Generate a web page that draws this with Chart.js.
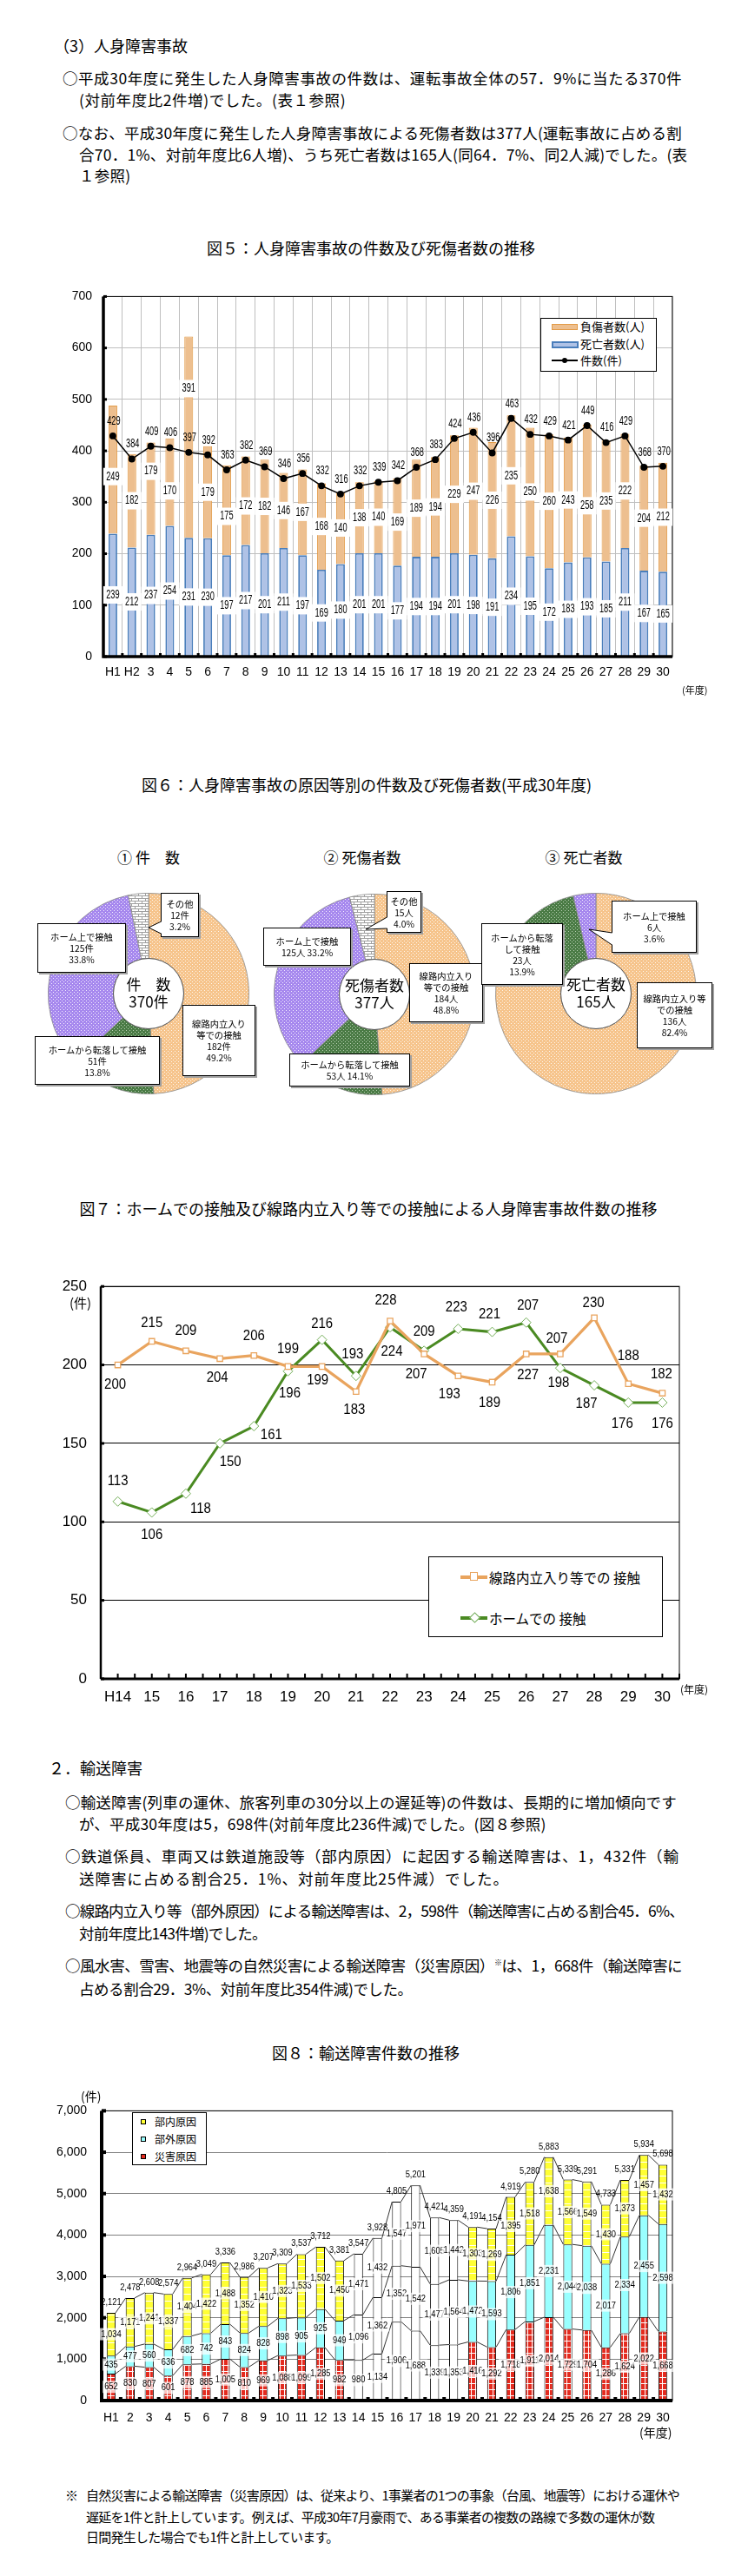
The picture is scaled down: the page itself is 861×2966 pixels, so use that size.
<!DOCTYPE html>
<html lang="ja"><head><meta charset="utf-8">
<script src="https://cdn.jsdelivr.net/npm/chart.js@4.4.1/dist/chart.umd.min.js"></script>
<style>
html,body{margin:0;padding:0;background:#fff;}
body{width:861px;height:2966px;position:relative;font-family:'Noto Sans CJK JP','Noto Sans',sans-serif;color:#000;overflow:hidden;}
.a{position:absolute;}
.t{position:absolute;white-space:nowrap;line-height:20px;font-size:17.5px;}
.ttl{position:absolute;white-space:nowrap;line-height:22px;font-size:18px;text-align:center;width:800px;}
.box{position:absolute;background:#fff;border:1px solid #000;box-shadow:2px 2px 0 #a0a0a0;font-size:10.3px;line-height:13px;text-align:center;display:flex;flex-direction:column;justify-content:center;white-space:nowrap;z-index:5;}
.ctr{position:absolute;text-align:center;font-size:17px;line-height:20px;z-index:4;}
.lg{position:absolute;background:#fff;border:1px solid #000;z-index:5;}
</style></head><body>

<div class="t" style="left:62px;top:42px;font-size:18px">（3）人身障害事故</div>
<div class="t" style="left:72px;top:80px" data-g="p1" data-w="713">○平成30年度に発生した人身障害事故の件数は、運転事故全体の57．9%に当たる370件</div>
<div class="t" style="left:91px;top:105px" data-g="p1">(対前年度比2件増)でした。(表１参照)</div>
<div class="t" style="left:72px;top:143px" data-g="p2" data-w="713">○なお、平成30年度に発生した人身障害事故による死傷者数は377人(運転事故に占める割</div>
<div class="t" style="left:91px;top:168px" data-g="p2">合70．1%、対前年度比6人増)、うち死亡者数は165人(同64．7%、同2人減)でした。(表</div>
<div class="t" style="left:91px;top:192px" data-g="p2">１参照)</div>

<div class="ttl" style="left:27px;top:274px">図５：人身障害事故の件数及び死傷者数の推移</div>
<div class="a" id="c5" style="left:60px;top:320px;width:740px;height:480px"><canvas></canvas></div>
<div class="a" style="left:785px;top:786px;font-size:11px">(年度)</div>
<div class="lg" style="left:622px;top:366px;width:132px;height:60px">
  <div class="a" style="left:12px;top:6px;width:28px;height:5px;background:#EDBF8F;border:1px solid #E39B48"></div>
  <div class="a" style="left:45px;top:0px;font-size:13px;line-height:18px">負傷者数(人)</div>
  <div class="a" style="left:12px;top:26px;width:27px;height:4px;background:#AFC2E6;border:2px solid #4A7EBB"></div>
  <div class="a" style="left:45px;top:20px;font-size:13px;line-height:18px">死亡者数(人)</div>
  <div class="a" style="left:12px;top:47px;width:30px;height:2px;background:#000"></div>
  <div class="a" style="left:24px;top:45px;width:6px;height:6px;border-radius:3px;background:#000"></div>
  <div class="a" style="left:45px;top:39px;font-size:13px;line-height:18px">件数(件)</div>
</div>

<div class="ttl" style="left:22px;top:892px">図６：人身障害事故の原因等別の件数及び死傷者数(平成30年度)</div>
<div class="a" style="left:121px;top:977px;width:100px;text-align:center;font-size:17px;line-height:20px">①&nbsp;件　数</div>
<div class="a" style="left:362px;top:977px;width:110px;text-align:center;font-size:17px;line-height:20px">②&nbsp;死傷者数</div>
<div class="a" style="left:617px;top:977px;width:110px;text-align:center;font-size:17px;line-height:20px">③&nbsp;死亡者数</div>
<div class="a" id="p0" style="left:55px;top:1028px;width:232px;height:232px"><canvas></canvas></div>
<div class="a" id="p1" style="left:315px;top:1029px;width:232px;height:232px"><canvas></canvas></div>
<div class="a" id="p2" style="left:570px;top:1028px;width:232px;height:232px"><canvas></canvas></div>
<div id="pieLabels"></div>
<svg class="a" style="left:0;top:0;z-index:6" width="861" height="1300" viewBox="0 0 861 1300">
  <polygon points="186,1061 171,1068 186,1075" fill="#fff"/>
  <polyline points="185.5,1061 171,1068 185.5,1075" fill="none" stroke="#000" stroke-width="1"/>
  <polygon points="446,1056 421,1070 446,1069" fill="#fff"/>
  <polyline points="445.5,1056 421,1070 445.5,1069" fill="none" stroke="#000" stroke-width="1"/>
  <polygon points="705,1074 678,1070 705,1088" fill="#fff"/>
  <polyline points="704.5,1074 678,1070 704.5,1088" fill="none" stroke="#000" stroke-width="1"/>
</svg>

<div class="ttl" style="left:24px;top:1380px">図７：ホームでの接触及び線路内立入り等での接触による人身障害事故件数の推移</div>
<div class="a" id="c7" style="left:60px;top:1455px;width:750px;height:520px"><canvas></canvas></div>
<div class="a" style="left:80px;top:1490px;font-size:15px;line-height:20px">(件)</div>
<div class="a" style="left:783px;top:1936px;font-size:12px">(年度)</div>
<div class="lg" style="left:493px;top:1792px;width:268px;height:91px">
  <div class="a" style="left:36px;top:21px;width:31px;height:4px;background:#E9A45E"></div>
  <div class="a" style="left:47px;top:17px;width:7px;height:8px;border:1.5px solid #E9A45E;background:#fff"></div>
  <div class="a" style="left:69px;top:12px;font-size:15.5px;line-height:22px">線路内立入り等での 接触</div>
  <div class="a" style="left:36px;top:68px;width:31px;height:4px;background:#4A8A22"></div>
  <div class="a" style="left:48px;top:65px;width:7px;height:7px;border:1px solid #6AA84F;background:#fff;transform:rotate(45deg)"></div>
  <div class="a" style="left:69px;top:59px;font-size:15.5px;line-height:22px">ホームでの 接触</div>
</div>

<div class="t" style="left:56px;top:2025px;font-size:18px">２．輸送障害</div>
<div class="t" style="left:75px;top:2065px" data-g="q1" data-w="704">○輸送障害(列車の運休、旅客列車の30分以上の遅延等)の件数は、長期的に増加傾向です</div>
<div class="t" style="left:91px;top:2090px" data-g="q1">が、平成30年度は5，698件(対前年度比236件減)でした。(図８参照)</div>
<div class="t" style="left:75px;top:2127px" data-g="q2" data-w="707">○鉄道係員、車両又は鉄道施設等（部内原因）に起因する輸送障害は、1，432件（輸</div>
<div class="t" style="left:91px;top:2153px" data-g="q2">送障害に占める割合25．1%、対前年度比25件減）でした。</div>
<div class="t" style="left:75px;top:2190px" data-g="q3" data-w="712">○線路内立入り等（部外原因）による輸送障害は、2，598件（輸送障害に占める割合45．6%、</div>
<div class="t" style="left:91px;top:2216px" data-g="q3">対前年度比143件増)でした。</div>
<div class="t" style="left:75px;top:2253px" data-g="q4" data-w="710">○風水害、雪害、地震等の自然災害による輸送障害（災害原因）<sup style="font-size:9px;line-height:0">※</sup>は、1，668件（輸送障害に</div>
<div class="t" style="left:91px;top:2280px" data-g="q4">占める割合29．3%、対前年度比354件減)でした。</div>

<div class="ttl" style="left:21px;top:2352px">図８：輸送障害件数の推移</div>
<div class="a" id="c8" style="left:50px;top:2405px;width:750px;height:405px"><canvas></canvas></div>
<div class="a" style="left:93px;top:2404px;font-size:14px;line-height:18px">(件)</div>
<div class="a" style="left:736px;top:2791px;font-size:14px;line-height:18px">(年度)</div>
<div class="lg" style="left:152px;top:2432px;width:84px;height:59px">
  <div class="a" style="left:9px;top:7px;width:4px;height:4px;background:#FFFF33;border:1px solid #000"></div>
  <div class="a" style="left:25px;top:1px;font-size:12px;line-height:17px">部内原因</div>
  <div class="a" style="left:9px;top:27px;width:4px;height:4px;background:#99FFFF;border:1px solid #000"></div>
  <div class="a" style="left:25px;top:21px;font-size:12px;line-height:17px">部外原因</div>
  <div class="a" style="left:9px;top:47px;width:4px;height:4px;background:#E42A1E;border:1px solid #000"></div>
  <div class="a" style="left:25px;top:41px;font-size:12px;line-height:17px">災害原因</div>
</div>

<div class="t" style="left:75px;top:2863px;font-size:15px">※</div>
<div class="t" style="left:99px;top:2863px;font-size:15px" data-g="f1" data-w="683">自然災害による輸送障害（災害原因）は、従来より、1事業者の1つの事象（台風、地震等）における運休や</div>
<div class="t" style="left:99px;top:2888px;font-size:15px" data-g="f1">遅延を1件と計上しています。例えば、平成30年7月豪雨で、ある事業者の複数の路線で多数の運休が数</div>
<div class="t" style="left:99px;top:2911px;font-size:15px" data-g="f1">日間発生した場合でも1件と計上しています。</div>

<script>
// ---------- Figure 5 data ----------
const fig5Years=['H1','H2','3','4','5','6','7','8','9','10','11','12','13','14','15','16','17','18','19','20','21','22','23','24','25','26','27','28','29','30'];
const fig5Deaths=[239,212,237,254,231,230,197,217,201,211,197,169,180,201,201,177,194,194,201,198,191,234,195,172,183,193,185,211,167,165];
const fig5Injuries=[249,182,179,170,391,179,175,172,182,146,167,168,140,138,140,169,189,194,229,247,226,235,250,260,243,258,235,222,204,212];
const fig5Accidents=[429,384,409,406,397,392,363,382,369,346,356,332,316,332,339,342,368,383,424,436,396,463,432,429,421,449,416,429,368,370];
const fig5Ticks=[0,100,200,300,400,500,600,700];

// ---------- Figure 6 data ----------
const fig6Causes=['線路内立入り等での接触','ホームから転落して接触','ホーム上で接触','その他'];
const fig6Cases=[182,51,125,12];
const fig6CasesPct=[49.2,13.8,33.8,3.2];
const fig6Casualties=[184,53,125,15];
const fig6CasualtiesPct=[48.8,14.1,33.2,4.0];
const fig6Fatalities=[136,23,6];
const fig6FatalitiesPct=[82.4,13.9,3.6];
const fig6Totals=[370,377,165];

// ---------- Figure 7 data ----------
const fig7Years=['H14','15','16','17','18','19','20','21','22','23','24','25','26','27','28','29','30'];
const fig7Track=[200,215,209,204,206,199,199,183,228,207,193,189,207,207,230,188,182];
const fig7Platform=[113,106,118,150,161,196,216,193,224,209,223,221,227,198,187,176,176];
const fig7Ticks=[0,50,100,150,200,250];

// ---------- Figure 8 data ----------
const fig8Years=['H1','2','3','4','5','6','7','8','9','10','11','12','13','14','15','16','17','18','19','20','21','22','23','24','25','26','27','28','29','30'];
const fig8Internal=[1034,1171,1241,1337,1404,1422,1488,1352,1410,1323,1533,1502,1450,1471,1432,1547,1971,1605,1442,1303,1269,1395,1518,1638,1566,1549,1430,1373,1457,1432];
const fig8External=[435,477,560,636,682,742,843,824,828,898,905,925,949,1096,1362,1352,1542,1477,1564,1472,1593,1806,1851,2231,2044,2038,2017,2334,2455,2598];
const fig8Disaster=[652,830,807,601,878,885,1005,810,969,1088,1099,1285,982,980,1134,1906,1688,1339,1353,1416,1292,1718,1911,2014,1729,1704,1286,1624,2022,1668];
const fig8Total=[2121,2478,2608,2574,2964,3049,3336,2986,3207,3309,3537,3712,3381,3547,3928,4805,5201,4421,4359,4191,4154,4919,5280,5883,5339,5291,4733,5331,5934,5698];

// ---------- style-only arrays (label offsets, px) ----------
const fig5InjuryDy=[8,0,-20,10,-56,0,7,6,0,0,0,0,0,0,0,0,0,0,0,0,0,0,0,0,0,17,0,0,0,0];
const fig7TrackDy=[23,-21,-23,22,-22,-20,16,21,-24,23,21,24,-56,-18,-17,-32,-22];
const fig7TrackDx=[-3,0,0,-3,0,0,-5,-2,-5,-9,-10,-3,2,-4,-1,0,-1];
const fig7PlatformDy=[-23,26,18,21,10,26,-18,-25,28,-22,-25,-20,61,17,21,24,24];
const fig7PlatformDx=[0,0,17,12,20,2,0,-4,2,0,-2,-3,2,-2,-9,-7,0];

Chart.defaults.font.family="'Liberation Sans','Noto Sans CJK JP',sans-serif";
Chart.defaults.color='#000';

function cond(ctx,text,x,y,sx){ctx.save();ctx.translate(x,y);ctx.scale(sx,1);ctx.fillText(text,0,0);ctx.restore();}
function mkPattern(w,h,draw){const c=document.createElement('canvas');c.width=w;c.height=h;const x=c.getContext('2d');draw(x);return x.createPattern(c,'repeat');}
const fmt=v=>v.toLocaleString('en-US');

function build(){
// ===== Figure 5 =====
const fig5Plugin={id:'fig5p',afterDatasetsDraw(chart){
  const {ctx,chartArea:a}=chart;ctx.save();
  ctx.strokeStyle='#000';ctx.lineWidth=1;ctx.strokeRect(a.left,a.top,a.right-a.left,a.bottom-a.top);
  ctx.lineWidth=3.5;ctx.beginPath();ctx.moveTo(a.left,a.top);ctx.lineTo(a.left,a.bottom);ctx.lineTo(a.right,a.bottom);ctx.stroke();
  const n=chart.data.labels.length,cw=(a.right-a.left)/n;ctx.fillStyle='#000';
  for(let i=1;i<n;i++)ctx.fillRect(a.left+i*cw-1.5,a.bottom-4,3,4);
  const ys=chart.scales.y;fig5Ticks.forEach(v=>ctx.fillRect(a.left,ys.getPixelForValue(v)-1.5,4,3));
  ctx.font="14px 'Liberation Sans',sans-serif";ctx.textAlign='center';ctx.textBaseline='middle';
  [1,2].forEach(di=>{const m=chart.getDatasetMeta(di);const ds=chart.data.datasets[di];
    m.data.forEach((b,i)=>{const cy=(b.y+b.base)/2+(di===2?fig5InjuryDy[i]:0);ctx.fillStyle='#fff';ctx.fillRect(b.x-11,cy-10,22,20);ctx.fillStyle='#000';cond(ctx,String(ds.data[i]),b.x,cy,0.66);});});
  const lm=chart.getDatasetMeta(0);
  lm.data.forEach((p,i)=>{ctx.fillStyle='#000';cond(ctx,String(fig5Accidents[i]),p.x+1,p.y-17,0.66);});
  ctx.restore();}};
new Chart(document.querySelector('#c5 canvas'),{type:'bar',
 data:{labels:fig5Years,datasets:[
  {type:'line',label:'件数(件)',data:fig5Accidents,borderColor:'#000',borderWidth:1.5,pointRadius:3.2,pointBackgroundColor:'#000',pointBorderColor:'#000',order:0},
  {label:'死亡者数(人)',data:fig5Deaths,backgroundColor:'#AFC2E6',borderColor:'#4A7EBB',borderWidth:1.8,order:1,barPercentage:0.46,categoryPercentage:1},
  {label:'負傷者数(人)',data:fig5Injuries,backgroundColor:'#EDBF8F',borderColor:'#E39B48',borderWidth:1,order:2,barPercentage:0.46,categoryPercentage:1}]},
 options:{responsive:true,maintainAspectRatio:false,animation:false,
  layout:{padding:{top:15,right:26,left:0,bottom:0}},
  plugins:{legend:{display:false},tooltip:{enabled:false}},
  scales:{
   x:{stacked:true,grid:{color:'#BFBFBF',drawTicks:false,offset:true},border:{display:false},ticks:{font:{size:14},padding:10,autoSkip:false,maxRotation:0},afterFit(s){s.height=44;}},
   y:{stacked:true,min:0,max:700,grid:{color:'#BFBFBF',drawTicks:false},border:{display:false},ticks:{stepSize:100,font:{size:14},padding:13},afterFit(s){s.width=59;}}}},
 plugins:[fig5Plugin]});

// ===== Figure 6 =====
const patOrange=mkPattern(4,4,x=>{x.fillStyle='#F6C48C';x.fillRect(0,0,4,4);x.fillStyle='#FFF6EA';x.fillRect(0,0,1,1);x.fillRect(2,2,1,1);});
const patGreen=mkPattern(4,4,x=>{x.fillStyle='#4A7B45';x.fillRect(0,0,4,4);x.fillStyle='#B8CFB3';x.fillRect(0,0,1,1);x.fillRect(2,2,1,1);});
const patPurple=mkPattern(4,4,x=>{x.fillStyle='#A688EE';x.fillRect(0,0,4,4);x.fillStyle='#F3EEFF';x.fillRect(0,0,1,1);x.fillRect(2,2,1,1);});
const patOther=mkPattern(8,6,x=>{x.fillStyle='#fff';x.fillRect(0,0,8,6);x.fillStyle='#A0A0A0';x.fillRect(0,0,8,1);x.fillRect(0,3,8,1);x.fillRect(0,0,1,3);x.fillRect(4,3,1,3);});
const pies=[{vals:fig6Cases,pct:fig6CasesPct,unit:'件',center:['件　数',fig6Totals[0]+'件']},
            {vals:fig6Casualties,pct:fig6CasualtiesPct,unit:'人',center:['死傷者数',fig6Totals[1]+'人']},
            {vals:fig6Fatalities,pct:fig6FatalitiesPct,unit:'人',center:['死亡者数',fig6Totals[2]+'人']}];
const pieFill=[patOrange,patGreen,patPurple,patOther];
pies.forEach((p,k)=>{
  new Chart(document.querySelector('#p'+k+' canvas'),{type:'doughnut',
   data:{labels:fig6Causes.slice(0,p.vals.length),datasets:[{data:p.vals,backgroundColor:pieFill.slice(0,p.vals.length),borderColor:'#8a8a8a',borderWidth:0.8}]},
   options:{responsive:true,maintainAspectRatio:false,animation:false,cutout:'35%',layout:{padding:0},plugins:{legend:{display:false},tooltip:{enabled:false}}},
   plugins:[{id:'hole',afterDatasetsDraw(chart){const m=chart.getDatasetMeta(0).data[0];const c=chart.ctx;c.save();c.beginPath();c.arc(m.x,m.y,m.innerRadius,0,Math.PI*2);c.fillStyle='#fff';c.fill();c.strokeStyle='#333';c.lineWidth=0.8;c.stroke();c.restore();}}]});
});
const fig6Layout=[
 {pie:0,i:3,l:185,t:1028,w:42,h:49,lines:['その他','{n}','{p}%']},
 {pie:0,i:2,l:43,t:1063,w:100,h:55,lines:['ホーム上で接触','{n}','{p}%']},
 {pie:0,i:1,l:40,t:1193,w:142,h:54,lines:['ホームから転落して接触','{n}','{p}%']},
 {pie:0,i:0,l:210,t:1157,w:82,h:80,lines:['線路内立入り','等での接触','{n}','{p}%']},
 {pie:1,i:3,l:445,t:1026,w:38,h:46,lines:['その他','{n}','{p}%']},
 {pie:1,i:2,l:303,t:1068,w:99,h:42,lines:['ホーム上で接触','{n} {p}%']},
 {pie:1,i:0,l:471,t:1109,w:83,h:66,lines:['線路内立入り','等での接触','{n}','{p}%']},
 {pie:1,i:1,l:333,t:1213,w:137,h:36,lines:['ホームから転落して接触','{n} {p}%']},
 {pie:2,i:2,l:704,t:1037,w:96,h:58,lines:['ホーム上で接触','{n}','{p}%']},
 {pie:2,i:1,l:554,t:1063,w:92,h:69,lines:['ホームから転落','して接触','{n}','{p}%']},
 {pie:2,i:0,l:733,t:1131,w:85,h:74,lines:['線路内立入り等','での接触','{n}','{p}%']}];
const holder=document.getElementById('pieLabels');
fig6Layout.forEach(b=>{const p=pies[b.pie];const d=document.createElement('div');d.className='box';
  d.style.cssText+=`left:${b.l}px;top:${b.t}px;width:${b.w}px;height:${b.h}px;`;
  d.innerHTML=b.lines.map(s=>'<div>'+s.replace('{n}',p.vals[b.i]+p.unit).replace('{p}',p.pct[b.i].toFixed(1))+'</div>').join('');holder.appendChild(d);});
const centers=[[171,1144],[431,1145],[686,1144]];
pies.forEach((p,k)=>{const d=document.createElement('div');d.className='ctr';d.style.cssText+=`left:${centers[k][0]-45}px;top:${centers[k][1]-21}px;width:90px;`;
  d.innerHTML=p.center.map(s=>'<div>'+s+'</div>').join('');holder.appendChild(d);});

// ===== Figure 7 =====
const fig7Plugin={id:'fig7p',afterDatasetsDraw(chart){
  const {ctx,chartArea:a}=chart;ctx.save();
  ctx.strokeStyle='#000';ctx.lineWidth=1;ctx.strokeRect(a.left,a.top,a.right-a.left,a.bottom-a.top);
  ctx.lineWidth=2.5;ctx.beginPath();ctx.moveTo(a.left,a.top);ctx.lineTo(a.left,a.bottom);ctx.stroke();
  ctx.lineWidth=3;ctx.beginPath();ctx.moveTo(a.left,a.bottom);ctx.lineTo(a.right,a.bottom);ctx.stroke();
  const n=chart.data.labels.length,cw=(a.right-a.left)/n;ctx.lineWidth=2;ctx.beginPath();
  for(let i=0;i<=2*n;i++){const x=a.left+i*cw/2;ctx.moveTo(x,a.bottom-6);ctx.lineTo(x,a.bottom);}ctx.stroke();
  const ys=chart.scales.y;ctx.fillStyle='#000';fig7Ticks.forEach(v=>ctx.fillRect(a.left,ys.getPixelForValue(v)-1.5,4,3));
  ctx.font="17px 'Liberation Sans',sans-serif";ctx.textAlign='center';ctx.textBaseline='middle';
  const m0=chart.getDatasetMeta(0),m1=chart.getDatasetMeta(1);
  m0.data.forEach((p,i)=>cond(ctx,String(fig7Track[i]),p.x+fig7TrackDx[i],p.y+fig7TrackDy[i],0.88));
  m1.data.forEach((p,i)=>cond(ctx,String(fig7Platform[i]),p.x+fig7PlatformDx[i],p.y+fig7PlatformDy[i],0.88));
  ctx.restore();}};
new Chart(document.querySelector('#c7 canvas'),{type:'line',
 data:{labels:fig7Years,datasets:[
  {label:'線路内立入り等での接触',data:fig7Track,borderColor:'#E9A45E',borderWidth:3.2,pointStyle:'rect',pointRadius:4.5,pointBackgroundColor:'#fff',pointBorderColor:'#E9A45E',pointBorderWidth:1.3,tension:0},
  {label:'ホームでの接触',data:fig7Platform,borderColor:'#4A8A22',borderWidth:3,pointStyle:'rectRot',pointRadius:5.5,pointBackgroundColor:'#fff',pointBorderColor:'#72AD56',pointBorderWidth:1,tension:0}]},
 options:{responsive:true,maintainAspectRatio:false,animation:false,
  layout:{padding:{top:17,right:28,left:0,bottom:0}},
  plugins:{legend:{display:false},tooltip:{enabled:false}},
  scales:{
   x:{offset:true,grid:{display:false,drawTicks:false},border:{display:false},ticks:{font:{size:17},padding:11,autoSkip:false,maxRotation:0},afterFit(s){s.height=42;}},
   y:{min:0,max:250,grid:{color:'#000',lineWidth:1,drawTicks:false},border:{display:false},ticks:{stepSize:50,font:{size:17},padding:16},afterFit(s){s.width=56;}}}},
 plugins:[fig7Plugin]});

// ===== Figure 8 =====
const patYellow=mkPattern(10,8,x=>{x.fillStyle='#FFFF33';x.fillRect(0,0,10,8);x.fillStyle='#FFFFFF';x.fillRect(0,4,10,1);});
const patRed=mkPattern(5,7,x=>{x.fillStyle='#E42A1E';x.fillRect(0,0,5,7);x.fillStyle='#FFFFFF';x.fillRect(0,3,5,1);x.fillRect(2,0,1,7);});
const blank=(i)=>i>=13&&i<=18;
const fig8Plugin={id:'fig8p',afterDatasetsDraw(chart){
  const {ctx,chartArea:a}=chart;ctx.save();
  ctx.strokeStyle='#333';ctx.lineWidth=1;
  chart.data.datasets.forEach((ds,di)=>{const m=chart.getDatasetMeta(di);ctx.beginPath();
    for(let i=0;i<m.data.length-1;i++){const p=m.data[i],q=m.data[i+1];ctx.moveTo(p.x+p.width/2,p.y);ctx.lineTo(q.x-q.width/2,q.y);}ctx.stroke();});
  ctx.strokeStyle='#000';ctx.lineWidth=1;ctx.strokeRect(a.left,a.top,a.right-a.left,a.bottom-a.top);
  ctx.lineWidth=4;ctx.beginPath();ctx.moveTo(a.left,a.top);ctx.lineTo(a.left,a.bottom);ctx.lineTo(a.right,a.bottom);ctx.stroke();
  const n=chart.data.labels.length,cw=(a.right-a.left)/n;ctx.fillStyle='#000';
  for(let i=1;i<n;i++)ctx.fillRect(a.left+i*cw-2,a.bottom-4,4,4);
  const ys=chart.scales.y;for(let v=1000;v<=7000;v+=1000)ctx.fillRect(a.left,ys.getPixelForValue(v)-2,5,4);
  ctx.font="11px 'Liberation Sans',sans-serif";ctx.textAlign='center';ctx.textBaseline='middle';
  chart.data.datasets.forEach((ds,di)=>{const m=chart.getDatasetMeta(di);
    m.data.forEach((b,i)=>{const cy=(b.y+b.base)/2;const s=fmt(ds.data[i]);const w=ctx.measureText(s).width*0.85+4;
      ctx.fillStyle='rgba(255,255,255,0.72)';ctx.fillRect(b.x-w/2,cy-7,w,14);ctx.fillStyle='#000';cond(ctx,s,b.x,cy,0.85);});});
  const mt=chart.getDatasetMeta(2);
  mt.data.forEach((b,i)=>{ctx.fillStyle='#000';cond(ctx,fmt(fig8Total[i]),b.x,b.y-12,0.85);});
  ctx.restore();}};
new Chart(document.querySelector('#c8 canvas'),{type:'bar',
 data:{labels:fig8Years,datasets:[
  {label:'災害原因',data:fig8Disaster,backgroundColor:c=>blank(c.dataIndex)?'#fff':patRed,borderColor:'#000',borderWidth:1,barPercentage:0.47,categoryPercentage:1},
  {label:'部外原因',data:fig8External,backgroundColor:c=>blank(c.dataIndex)?'#fff':'#99FFFF',borderColor:'#000',borderWidth:1,barPercentage:0.47,categoryPercentage:1},
  {label:'部内原因',data:fig8Internal,backgroundColor:c=>blank(c.dataIndex)?'#fff':patYellow,borderColor:'#000',borderWidth:1,barPercentage:0.47,categoryPercentage:1}]},
 options:{responsive:true,maintainAspectRatio:false,animation:false,
  layout:{padding:{top:21,right:26,left:0,bottom:0}},
  plugins:{legend:{display:false},tooltip:{enabled:false}},
  scales:{
   x:{stacked:true,grid:{display:false,drawTicks:false},border:{display:false},ticks:{font:{size:14},padding:12,autoSkip:false,maxRotation:0},afterFit(s){s.height=46;}},
   y:{stacked:true,min:0,max:7000,grid:{color:'#808080',drawTicks:false},border:{display:false},ticks:{stepSize:1000,font:{size:14},padding:17,callback:v=>fmt(v)},afterFit(s){s.width=67;}}}},
 plugins:[fig8Plugin]});
}

function fitText(){
  const groups={};
  document.querySelectorAll('[data-w]').forEach(el=>{
    const target=+el.dataset.w;const w=el.getBoundingClientRect().width;const n=[...el.textContent].length;
    groups[el.dataset.g]=(target-w)/n;});
  document.querySelectorAll('[data-g]').forEach(el=>{const ls=groups[el.dataset.g];if(ls!==undefined)el.style.letterSpacing=ls.toFixed(3)+'px';});
}
(document.fonts&&document.fonts.ready?document.fonts.ready:Promise.resolve()).then(()=>{fitText();build();});
</script>
</body></html>
